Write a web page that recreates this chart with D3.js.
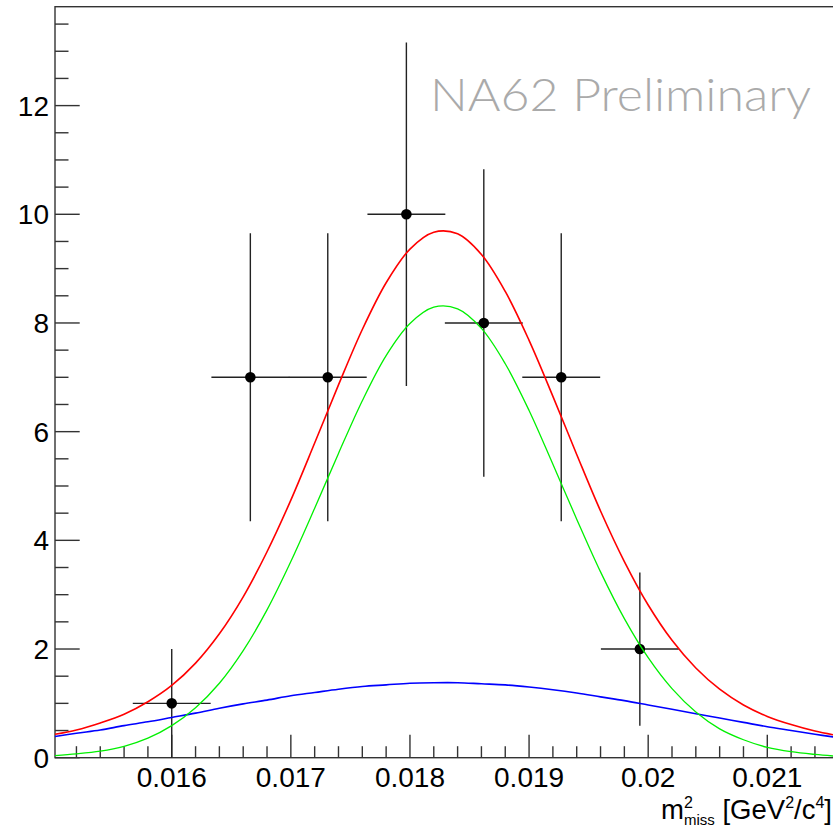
<!DOCTYPE html>
<html>
<head>
<meta charset="utf-8">
<script src="https://cdn.jsdelivr.net/npm/d3@7"></script>
<style>
  html, body { margin: 0; padding: 0; background: #fff; }
  svg { display: block; }
  .tick-label { font-family: "Liberation Sans", Arial, Helvetica, sans-serif; font-size: 28px; fill: #000; }
</style>
</head>
<body>
<svg id="chart" width="833" height="829"></svg>
<script>
// histogram points (bin centres, counts, poisson errors)
const binCenters = [0.01600, 0.01666, 0.01731, 0.01797, 0.01862, 0.01927, 0.01993];
const counts = [1, 7, 7, 10, 8, 7, 2];
const errors = [1.0, 2.65, 2.65, 3.16, 2.83, 2.65, 1.41];
const binHalfWidth = 0.000327;

// fitted curves
const curveX = [0.01502, 0.0152, 0.0154, 0.0156, 0.0158, 0.0160, 0.0162, 0.0164, 0.0166, 0.0168,
                0.0170, 0.0172, 0.0174, 0.0176, 0.0178, 0.0180, 0.0182, 0.0184, 0.0186, 0.0188,
                0.0190, 0.0192, 0.0194, 0.0196, 0.0198, 0.0200, 0.0202, 0.0204, 0.0206, 0.0208,
                0.0210, 0.0212, 0.0214, 0.02156];
const totalFit = [0.43, 0.51, 0.64, 0.80, 1.03, 1.33, 1.74, 2.28, 2.96, 3.79,
                  4.74, 5.79, 6.86, 7.88, 8.74, 9.36, 9.67, 9.64, 9.26, 8.58,
                  7.68, 6.65, 5.58, 4.54, 3.61, 2.81, 2.16, 1.65, 1.26, 0.97,
                  0.76, 0.61, 0.49, 0.42];
const signalFit = [0.04, 0.07, 0.12, 0.21, 0.36, 0.59, 0.92, 1.37, 1.97, 2.72,
                   3.61, 4.59, 5.60, 6.57, 7.40, 7.99, 8.29, 8.26, 7.90, 7.25,
                   6.39, 5.40, 4.39, 3.42, 2.56, 1.84, 1.27, 0.84, 0.53, 0.33,
                   0.19, 0.11, 0.06, 0.03];
const backgroundFit = [0.39, 0.45, 0.51, 0.59, 0.66, 0.74, 0.82, 0.91, 0.99, 1.06,
                       1.14, 1.20, 1.26, 1.31, 1.34, 1.37, 1.38, 1.38, 1.36, 1.34,
                       1.30, 1.25, 1.19, 1.12, 1.05, 0.97, 0.89, 0.81, 0.73, 0.65,
                       0.57, 0.50, 0.43, 0.38];

const xTickValues = [0.016, 0.017, 0.018, 0.019, 0.020, 0.021];
const xTickLabels = ["0.016", "0.017", "0.018", "0.019", "0.02", "0.021"];
const yTickValues = [0, 2, 4, 6, 8, 10, 12];
const yTickLabels = ["0", "2", "4", "6", "8", "10", "12"];

const svg = d3.select("#chart");
const frame = { left: 55, right: 834, top: 6.7, bottom: 757.7 };
const axisColor = "#333";

const x = d3.scaleLinear().domain([0.01502, 0.02156]).range([frame.left, frame.right]);
const y = d3.scaleLinear().domain([0, 13.82]).range([frame.bottom, frame.top]);

// frame
svg.append("rect")
    .attr("x", frame.left).attr("y", frame.top)
    .attr("width", frame.right - frame.left).attr("height", frame.bottom - frame.top)
    .attr("fill", "none").attr("stroke", axisColor).attr("stroke-width", 1.4);

// x axis ticks (ROOT style, ticks pointing inside)
const xMinor = d3.range(0.0152, 0.02156, 0.0002).filter(v => !xTickValues.some(t => Math.abs(t - v) < 1e-7));
const gx = svg.append("g");
gx.selectAll("line.minor").data(xMinor).enter().append("line")
    .attr("x1", d => x(d)).attr("x2", d => x(d))
    .attr("y1", frame.bottom).attr("y2", frame.bottom - 11.5)
    .attr("stroke", axisColor).attr("stroke-width", 1.4);
gx.selectAll("line.major").data(xTickValues).enter().append("line")
    .attr("x1", d => x(d)).attr("x2", d => x(d))
    .attr("y1", frame.bottom).attr("y2", frame.bottom - 23)
    .attr("stroke", axisColor).attr("stroke-width", 1.4);
gx.selectAll("text").data(xTickValues).enter().append("text")
    .attr("class", "tick-label")
    .attr("x", d => x(d)).attr("y", 786.5)
    .attr("text-anchor", "middle")
    .text((d, i) => xTickLabels[i]);

// y axis ticks
const yMinor = d3.range(0.5, 13.8, 0.5).filter(v => v % 2 !== 0);
const gy = svg.append("g");
gy.selectAll("line.minor").data(yMinor).enter().append("line")
    .attr("x1", frame.left).attr("x2", frame.left + 13.5)
    .attr("y1", d => y(d)).attr("y2", d => y(d))
    .attr("stroke", axisColor).attr("stroke-width", 1.4);
gy.selectAll("line.major").data(yTickValues).enter().append("line")
    .attr("x1", frame.left).attr("x2", frame.left + 24.7)
    .attr("y1", d => y(d)).attr("y2", d => y(d))
    .attr("stroke", axisColor).attr("stroke-width", 1.4);
gy.selectAll("text").data(yTickValues).enter().append("text")
    .attr("class", "tick-label")
    .attr("x", 49).attr("y", d => y(d) + 10)
    .attr("text-anchor", "end")
    .text((d, i) => yTickLabels[i]);

// data points with error bars
const pts = binCenters.map((c, i) => ({ x: c, n: counts[i], e: errors[i] }));
const gp = svg.append("g");
gp.selectAll("line.ex").data(pts).enter().append("line")
    .attr("x1", d => x(d.x - binHalfWidth)).attr("x2", d => x(d.x + binHalfWidth))
    .attr("y1", d => y(d.n)).attr("y2", d => y(d.n))
    .attr("stroke", "#222").attr("stroke-width", 1.4);
gp.selectAll("line.ey").data(pts).enter().append("line")
    .attr("x1", d => x(d.x)).attr("x2", d => x(d.x))
    .attr("y1", d => y(Math.max(0, d.n - d.e))).attr("y2", d => y(d.n + d.e))
    .attr("stroke", "#222").attr("stroke-width", 1.4);
gp.selectAll("circle").data(pts).enter().append("circle")
    .attr("cx", d => x(d.x)).attr("cy", d => y(d.n)).attr("r", 5.3)
    .attr("fill", "#000");

// fit curves
const line = d3.line().x(d => x(d[0])).y(d => y(d[1])).curve(d3.curveCatmullRom);
const curves = [
    { vals: backgroundFit, color: "#0000ff", w: 1.6 },
    { vals: signalFit, color: "#00f000", w: 1.3 },
    { vals: totalFit, color: "#ff0000", w: 1.6 }
];
curves.forEach(c => {
    svg.append("path")
        .datum(curveX.map((v, i) => [v, c.vals[i]]))
        .attr("d", line)
        .attr("fill", "none")
        .attr("stroke", c.color)
        .attr("stroke-width", c.w);
});

// NA62 Preliminary label
svg.append("text")
    .attr("x", 430).attr("y", 111)
    .attr("font-family", "Lato, 'Open Sans', sans-serif")
    .attr("font-weight", 300)
    .attr("font-size", 46)
    .attr("fill", "#aaaaaa")
    .attr("textLength", 381)
    .attr("lengthAdjust", "spacingAndGlyphs")
    .text("NA62 Preliminary");

// x axis title: m^2_miss [GeV^2/c^4], right aligned at the frame edge
const titleFont = "'Liberation Sans', Arial, Helvetica, sans-serif";
const mainSize = 27.5, supSize = 16, subSize = 15;
const pieces = [
    { t: "m", size: mainSize, dy: 0 },
    { t: "2", size: supSize, dy: -10.5, stack: true },
    { t: "miss", size: subSize, dy: 6.8 },
    { t: "\u00a0[GeV", size: mainSize, dy: 0 },
    { t: "2", size: supSize, dy: -10.5 },
    { t: "/c", size: mainSize, dy: 0 },
    { t: "4", size: supSize, dy: -10.5 },
    { t: "]", size: mainSize, dy: 0 }
];
const gt = svg.append("g");
const nodes = pieces.map(p => gt.append("text")
    .attr("font-family", titleFont)
    .attr("font-size", p.size)
    .attr("fill", "#000")
    .text(p.t));
const widths = nodes.map(n => n.node().getComputedTextLength());
let total = 0;
pieces.forEach((p, i) => {
    if (p.stack) return;
    if (i > 0 && pieces[i - 1].stack) total += Math.max(widths[i], widths[i - 1]);
    else total += widths[i];
});
let cx = 832 - total;
const baseline = 818.5;
pieces.forEach((p, i) => {
    nodes[i].attr("x", cx).attr("y", baseline + p.dy);
    if (p.stack) return;
    if (i > 0 && pieces[i - 1].stack) {
        cx += Math.max(widths[i], widths[i - 1]);
    } else {
        cx += widths[i];
    }
});
</script>
</body>
</html>
